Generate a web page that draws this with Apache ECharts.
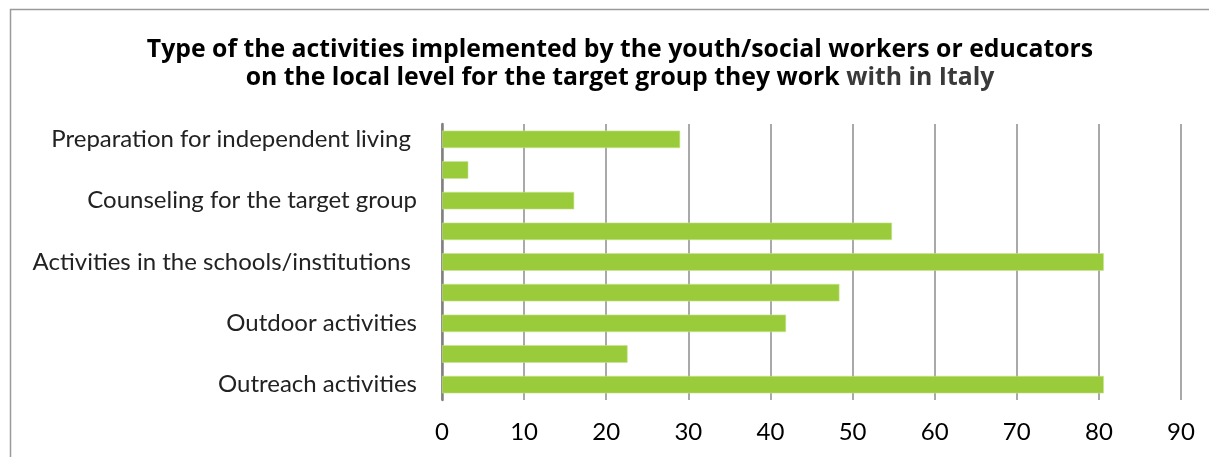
<!DOCTYPE html>
<html>
<head>
<meta charset="utf-8">
<style>
  html, body { margin: 0; padding: 0; background: #fff; }
  #chart { width: 1209px; height: 457px; }
</style>
<script src="https://cdn.jsdelivr.net/npm/echarts@6/dist/echarts.min.js"></script>
</head>
<body>
<div id="chart"></div>
<script>
// Activity types, top to bottom; only every other row carries a printed label
const categories = [
  'Preparation for independent living ',
  '',
  'Counseling for the target group',
  '',
  'Activities in the schools/institutions ',
  '',
  'Outdoor activities',
  '',
  'Outreach activities'
];
// Share of respondents (%) per activity type
const values = [29.0, 3.2, 16.1, 54.8, 80.6, 48.4, 41.9, 22.6, 80.6];
// Value axis ticks
const xTicks = [0, 10, 20, 30, 40, 50, 60, 70, 80, 90];

const titleLine1 = 'Type of the activities implemented by the youth/social workers or educators';
const titleLine2a = 'on the local level for the target group they work ';
const titleLine2b = 'with in Italy';

const LABEL_FONT = 'Lato, "Open Sans", sans-serif';
const TITLE_FONT = '"Open Sans", Lato, sans-serif';

const chart = echarts.init(document.getElementById('chart'), null, { renderer: 'canvas' });

chart.setOption({
  backgroundColor: '#ffffff',
  animation: false,
  graphic: [
    {
      type: 'rect',
      silent: true,
      shape: { x: 10.5, y: 9.5, width: 1300, height: 600 },
      style: { fill: 'none', stroke: '#9a9a9a', lineWidth: 1.5 }
    }
  ],
  title: {
    text: '{a|' + titleLine1 + '}\n{a|' + titleLine2a + '}{b|' + titleLine2b + '}',
    left: 615,
    top: 31,
    textAlign: 'center',
    textStyle: {
      rich: {
        a: { fontFamily: TITLE_FONT, fontWeight: 'bold', fontSize: 24.8, color: '#000000', lineHeight: 28 },
        b: { fontFamily: TITLE_FONT, fontWeight: 'bold', fontSize: 24.8, color: '#3a3a3a', lineHeight: 28 }
      }
    }
  },
  grid: { left: 442, right: 28, top: 124, bottom: 57, containLabel: false },
  xAxis: {
    type: 'value',
    min: xTicks[0],
    max: xTicks[xTicks.length - 1],
    interval: xTicks[1] - xTicks[0],
    axisLine: { show: false },
    axisTick: { show: false },
    splitLine: { show: true, lineStyle: { color: '#8c8c8c', width: 1.5 } },
    axisLabel: {
      margin: 20,
      fontFamily: LABEL_FONT,
      fontSize: 24,
      color: '#000000'
    }
  },
  yAxis: {
    type: 'category',
    inverse: true,
    data: categories,
    axisLine: { show: true, lineStyle: { color: '#808080', width: 2.5 } },
    axisTick: { show: false },
    axisLabel: {
      interval: 0,
      margin: 25,
      fontFamily: LABEL_FONT,
      fontSize: 24,
      color: '#222222'
    }
  },
  series: [
    {
      type: 'bar',
      data: values,
      barCategoryGap: '43%',
      itemStyle: { color: '#9acb3a', borderColor: '#c6e28e', borderWidth: 0.6 },
      z: 3
    }
  ]
});
</script>
</body>
</html>
